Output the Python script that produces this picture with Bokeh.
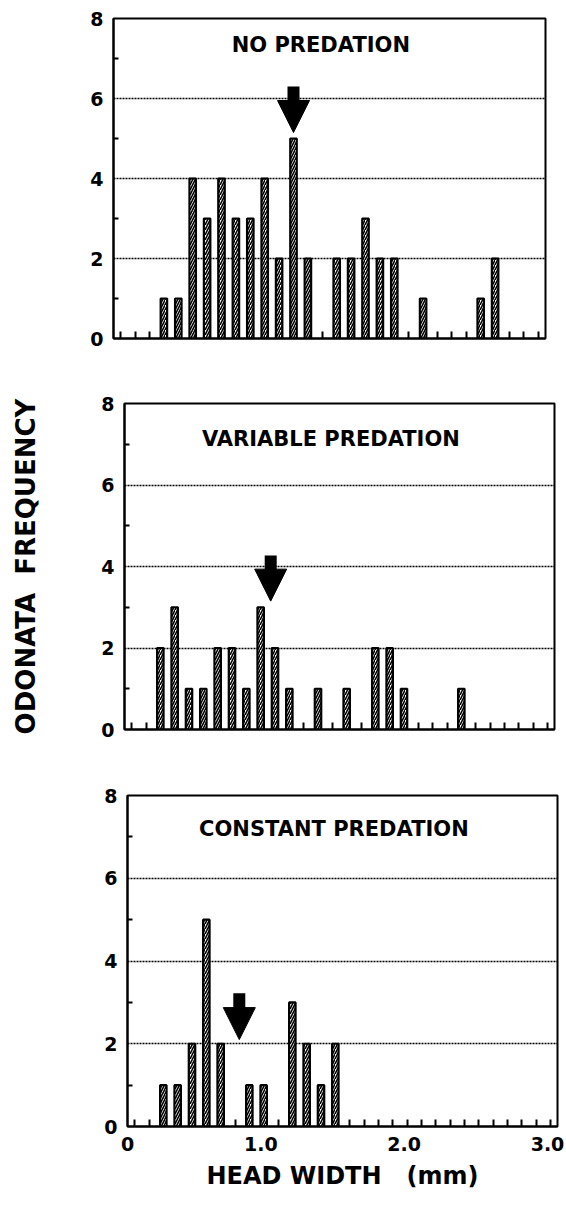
from bokeh.plotting import figure
from bokeh.models import Range1d, FixedTicker, Label, LinearAxis, Arrow, NormalHead, ColumnDataSource
from bokeh.embed import file_html
from bokeh.resources import INLINE

# ---------------- data ----------------
panel_titles = ["NO PREDATION", "VARIABLE PREDATION", "CONSTANT PREDATION"]

# bin centres (mm) and counts of each histogram
no_pred_x = [0.35, 0.45, 0.55, 0.65, 0.75, 0.85, 0.95, 1.05, 1.15, 1.25, 1.35,
             1.55, 1.65, 1.75, 1.85, 1.95, 2.15, 2.55, 2.65]
no_pred_n = [1, 1, 4, 3, 4, 3, 3, 4, 2, 5, 2, 2, 2, 3, 2, 2, 1, 1, 2]

var_pred_x = [0.25, 0.35, 0.45, 0.55, 0.65, 0.75, 0.85, 0.95, 1.05, 1.15, 1.35,
              1.55, 1.75, 1.85, 1.95, 2.35]
var_pred_n = [2, 3, 1, 1, 2, 2, 1, 3, 2, 1, 1, 1, 2, 2, 1, 1]

const_pred_x = [0.25, 0.35, 0.45, 0.55, 0.65, 0.85, 0.95, 1.15, 1.25, 1.35, 1.45]
const_pred_n = [1, 1, 2, 5, 2, 1, 1, 3, 2, 1, 2]

# arrows (mean head width) : x position, arrow tip value, arrow top value
arrow_x = [1.25, 1.02, 0.78]
arrow_tip = [5.15, 3.15, 2.1]
arrow_top = [6.3, 4.27, 3.22]

x_tick_vals = [0, 1, 2, 3]
x_tick_labels = ["0", "1.0", "2.0", "3.0"]
y_tick_vals = [0, 2, 4, 6, 8]
y_minor_vals = [1, 3, 5, 7]
y_grid_vals = [2, 4, 6]
bin_centres = [round(0.05 + 0.1 * i, 2) for i in range(30)]

y_title = "ODONATA\u00a0\u00a0FREQUENCY"
x_title = "HEAD WIDTH\u00a0\u00a0\u00a0(mm)"

series = [(no_pred_x, no_pred_n), (var_pred_x, var_pred_n), (const_pred_x, const_pred_n)]

# ---------------- layout / style ----------------
FONT = "DejaVu Sans"
cfg = [
    dict(left=113, top=18, fw=432, fh=320, bottom=32, right=10, title_y=7.33),
    dict(left=124, top=33, fw=430, fh=326, bottom=30, right=10, title_y=7.14),
    dict(left=127, top=36, fw=430, fh=331, bottom=76, right=9, title_y=7.2),
]

figs = []
for i, (c, (xs, ns)) in enumerate(zip(cfg, series)):
    p = figure(frame_width=c["fw"], frame_height=c["fh"],
               x_range=Range1d(0, 3), y_range=Range1d(0, 8),
               output_backend="svg", toolbar_location=None,
               min_border_left=c["left"], min_border_right=c["right"],
               min_border_top=c["top"], min_border_bottom=c["bottom"],
               background_fill_color="white", border_fill_color="white",
               outline_line_color="black", outline_line_width=2)

    # grid
    p.xgrid.visible = False
    p.ygrid.ticker = FixedTicker(ticks=y_grid_vals)
    p.ygrid.grid_line_color = "black"
    p.ygrid.grid_line_dash = "2 1"
    p.ygrid.grid_line_width = 1.3

    # y axis
    ya = p.yaxis[0]
    ya.ticker = FixedTicker(ticks=y_tick_vals, minor_ticks=y_minor_vals)
    ya.major_tick_in = 0
    ya.major_tick_out = 0
    ya.minor_tick_in = 5
    ya.minor_tick_out = 0
    ya.minor_tick_line_width = 2
    ya.minor_tick_line_color = "black"
    ya.axis_line_width = 2
    ya.axis_line_color = "black"
    ya.major_label_standoff = 10
    ya.major_label_text_font = FONT
    ya.major_label_text_font_style = "bold"
    ya.major_label_text_font_size = "19px"
    ya.major_label_text_color = "black"

    # x axis: small inward ticks at the empty bin centres
    occupied = set(xs)
    empty_bins = [b for b in bin_centres if b not in occupied]
    xa = p.xaxis[0]
    xa.ticker = FixedTicker(ticks=[], minor_ticks=empty_bins)
    xa.minor_tick_in = 7
    xa.minor_tick_out = 0
    xa.minor_tick_line_width = 2
    xa.minor_tick_line_color = "black"
    xa.major_tick_line_color = None
    xa.axis_line_width = 2
    xa.axis_line_color = "black"

    # bars
    src = ColumnDataSource(dict(x=xs, n=ns))
    p.vbar(x="x", top="n", bottom=0, width=0.045, source=src,
           fill_color="white", line_color="black", line_width=2.2,
           hatch_pattern="/", hatch_color="black", hatch_scale=5, hatch_weight=1.6)

    # arrow
    asrc = ColumnDataSource(dict(x=[arrow_x[i]], tip=[arrow_tip[i]], top=[arrow_top[i]],
                                 shaft_end=[arrow_tip[i] + 0.4], head_start=[arrow_tip[i] + 0.6]))
    p.segment(x0="x", y0="top", x1="x", y1="shaft_end", source=asrc,
              line_color="black", line_width=12, line_cap="butt")
    p.add_layout(Arrow(x_start="x", y_start="head_start", x_end="x", y_end="tip", source=asrc,
                       line_alpha=0,
                       end=NormalHead(size=32, fill_color="black", line_color="black", line_width=1)))

    # title inside the panel
    p.add_layout(Label(x=1.44, y=c["title_y"], text=panel_titles[i], text_align="center",
                       text_baseline="alphabetic", text_font=FONT, text_font_style="bold",
                       text_font_size="21px", text_color="black"))

    figs.append(p)

# shared y axis label on the middle panel
p2 = figs[1]
p2.yaxis[0].axis_label = y_title
p2.yaxis[0].axis_label_standoff = 57
p2.yaxis[0].axis_label_text_font = FONT
p2.yaxis[0].axis_label_text_font_style = "bold"
p2.yaxis[0].axis_label_text_font_size = "26px"
p2.yaxis[0].axis_label_text_color = "black"

# tick labels and axis title on the bottom panel (labels sit ~10px left, as in the original)
p3 = figs[2]
shift = 10 / cfg[2]["fw"] * 3
lab_start = 0 + shift
p3.extra_x_ranges = {"labels": Range1d(lab_start, 3 + shift)}
lab_ticks = [max(v, lab_start + 1e-6) for v in x_tick_vals]
lab_axis = LinearAxis(x_range_name="labels",
                      ticker=FixedTicker(ticks=lab_ticks, minor_ticks=[]),
                      major_label_overrides={t: s for t, s in zip(lab_ticks, x_tick_labels)},
                      axis_line_color=None, major_tick_line_color=None, minor_tick_line_color=None,
                      major_label_standoff=4,
                      major_label_text_font=FONT, major_label_text_font_style="bold",
                      major_label_text_font_size="19px", major_label_text_color="black",
                      axis_label=x_title, axis_label_standoff=8,
                      axis_label_text_font=FONT, axis_label_text_font_style="bold",
                      axis_label_text_font_size="24px", axis_label_text_color="black")
p3.add_layout(lab_axis, "below")

open("out.html", "w").write(file_html(figs, INLINE, "Odonata head width"))
